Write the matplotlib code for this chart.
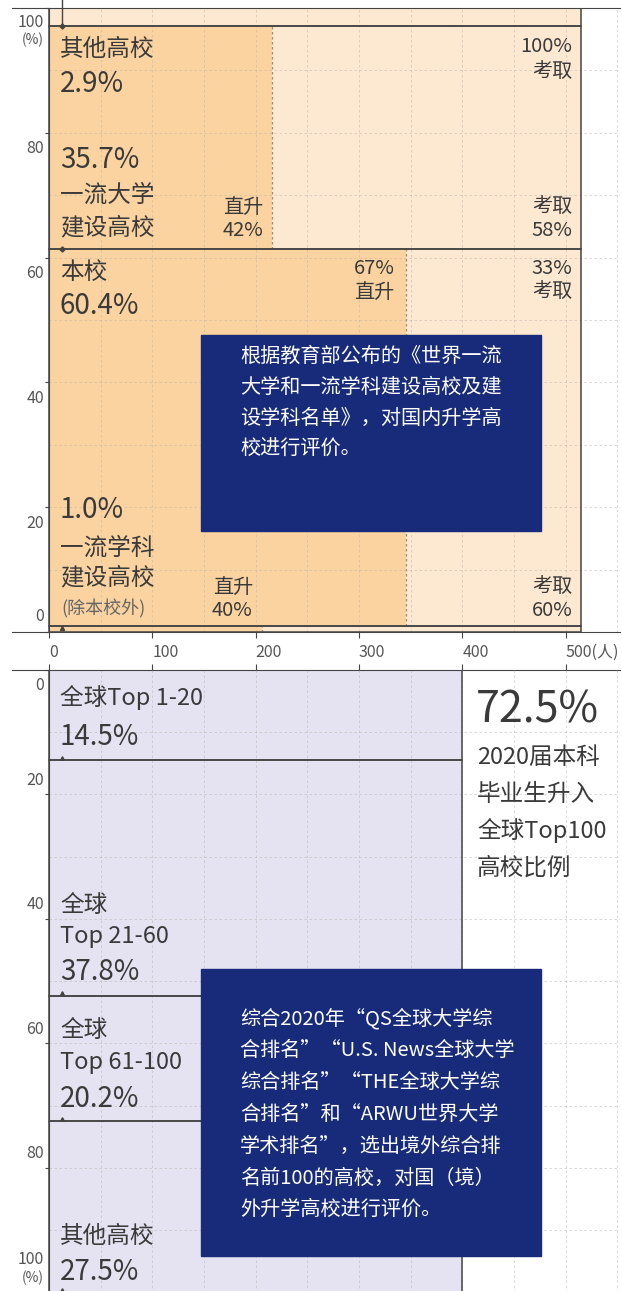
import numpy as np
import matplotlib.pyplot as plt
from matplotlib.patches import Rectangle

plt.rcParams['font.family'] = ['Noto Sans CJK SC', 'DejaVu Sans']

# domestic: stacked from bottom (percent of students), split 直升 / 考取
dom_names = ['一流学科\n建设高校', '本校', '一流大学\n建设高校', '其他高校']
dom_share = [1.0, 60.4, 35.7, 2.9]
dom_direct = [40, 67, 42, 0]      # 直升 %
dom_total = 515                   # 人

# abroad: stacked from top
abr_names = ['全球Top 1-20', '全球\nTop 21-60', '全球\nTop 61-100', '其他高校']
abr_share = [14.5, 37.8, 20.2, 27.5]
abr_total = 400
top100 = 72.5

xticks = [0, 100, 200, 300, 400, 500]
xticklabels = ['0', '100', '200', '300', '400', '500(人)']
yticks = [0, 20, 40, 60, 80, 100]

W, H = 622, 1291
DARK = '#fad3a0'
LIGHT = '#fde9d1'
LAV = '#e5e3f2'
NAVY = '#172b7a'
EDGE = '#444444'
TXT = '#3a3a3a'
GRID = '#b5aea8'

fig = plt.figure(figsize=(W / 100, H / 100), dpi=100)
ax1 = fig.add_axes([12 / W, 1 - 632 / H, 608 / W, 624 / H])
ax2 = fig.add_axes([12 / W, 0, 608 / W, 621 / H])
for ax in (ax1, ax2):
    ax.set_xlim(-35.8, 552.6)
    ax.spines['right'].set_visible(False)
    ax.spines['left'].set_position(('data', 0))
    ax.spines['left'].set_color(EDGE)
    ax.spines['top'].set_color(EDGE)
    ax.spines['bottom'].set_color(EDGE)
    ax.set_yticks(yticks)
    ax.tick_params(axis='y', direction='out', length=3, color=EDGE, labelleft=False)
    ax.set_xticks(xticks)
ax1.set_ylim(0, 100)
ax2.set_ylim(99.76, 0)
ax2.spines['bottom'].set_visible(False)

ax1.set_xticklabels(xticklabels, ha='left', fontsize=11.5, color='#555555')
ax1.tick_params(axis='x', direction='out', length=4.5, color=EDGE, pad=4)
ax2.xaxis.tick_top()
ax2.tick_params(axis='x', direction='out', length=4.5, color=EDGE, labeltop=False)

# --- grid (dashed, on top of fills)
for ax in (ax1, ax2):
    ax.hlines(np.arange(10, 100, 10), 0, 552.6, colors=GRID, linestyles=(0, (3, 3)),
              lw=0.6, alpha=0.55, zorder=3)
    ax.vlines(np.arange(50, 551, 50), 0, 100, colors=GRID, linestyles=(0, (3, 3)),
              lw=0.6, alpha=0.55, zorder=3)

# --- top panel bars
bottoms = np.concatenate([[0], np.cumsum(dom_share)[:-1]])
for b, s, d in zip(bottoms, dom_share, dom_direct):
    split = dom_total * d / 100
    ax1.bar(0, s, width=split, bottom=b, align='edge', color=DARK, lw=0, zorder=1)
    ax1.bar(split, s, width=dom_total - split, bottom=b, align='edge', color=LIGHT, lw=0, zorder=1)
    if 0 < d < 100:
        ax1.vlines(split, b, b + s, colors='#a08c78', linestyles=(0, (2, 2)), lw=0.9, zorder=4)
    ax1.bar(0, s, width=dom_total, bottom=b, align='edge', fill=False, edgecolor=EDGE,
            lw=1.1, zorder=5)

# --- bottom panel bars
abr_bottoms = np.concatenate([[0], np.cumsum(abr_share)[:-1]])
for b, s in zip(abr_bottoms, abr_share):
    ax2.bar(0, s, width=abr_total, bottom=b, align='edge', color=LAV, lw=0, zorder=1)
    ax2.bar(0, s, width=abr_total, bottom=b, align='edge', fill=False, edgecolor=EDGE,
            lw=1.1, zorder=5)

# small pointer marks near the left edge
ax1.plot([13, 13], [101.3, bottoms[3]], color=EDGE, lw=1, clip_on=False, zorder=6)
ax1.plot([13, 13], [bottoms[3], bottoms[2]], 'D', color=EDGE, ms=2.6, zorder=6)
ax1.plot(13, bottoms[1] - 0.4, '^', color=EDGE, ms=3, zorder=6)
ax2.plot([13] * 4, np.cumsum(abr_share) - 0.4, '^', color=EDGE, ms=2.6, zorder=6, clip_on=False)

# --- y tick labels (placed beside ticks)
def ylab(ax, v, dy, s, size=11.5):
    ax.annotate(s, xy=(0, v), xytext=(-5, dy), textcoords='offset pixels',
                ha='right', va='center', fontsize=size, color='#555555',
                annotation_clip=False)

for v in yticks:
    if v == 100:
        ylab(ax1, v, -15, '100')
        ylab(ax1, v, -32, '(%)', 10)
        ylab(ax2, v, 33, '100')
        ylab(ax2, v, 15, '(%)', 10)
    elif v == 0:
        ylab(ax1, v, 15, '0')
        ylab(ax2, v, -16, '0')
    else:
        ylab(ax1, v, -16, str(v))
        ylab(ax2, v, 14, str(v))

# --- note boxes
ax1.add_patch(Rectangle((147, 16.2), 329, 31.4, color=NAVY, zorder=7))
ax2.add_patch(Rectangle((147, 48.0), 329, 46.2, color=NAVY, zorder=7))


def put(x, y, s, size, color=TXT, ha='left'):
    fig.text(x / W, 1 - y / H, s, fontsize=size, color=color, ha=ha, va='center')


def xpx(ax, v):
    return ax.transData.transform((v, 0))[0]


L = 60
BIG, LBL, SM = 20, 17, 14.5

# top panel labels
put(L, 49, dom_names[3], LBL)
put(L, 84, f'{dom_share[3]}%', BIG)
put(L, 160, f'{dom_share[2]}%', BIG)
put(L, 195, dom_names[2].split('\n')[0], LBL)
put(L, 228, dom_names[2].split('\n')[1], LBL)
put(L, 272, dom_names[1], LBL)
put(L, 306, f'{dom_share[1]}%', BIG)
put(L, 510, f'{dom_share[0]}%', BIG)
put(L, 548, dom_names[0].split('\n')[0], LBL)
put(L, 578, dom_names[0].split('\n')[1], LBL)
put(L + 1, 609, '(除本校外)', 13, color='#666666')

rx = xpx(ax1, dom_total) - 9
put(rx, 46, f'{100 - dom_direct[3]}%', SM, ha='right')
put(rx, 72, '考取', SM, ha='right')
put(rx, 207, '考取', SM, ha='right')
put(rx, 231, f'{100 - dom_direct[2]}%', SM, ha='right')
put(rx, 268, f'{100 - dom_direct[1]}%', SM, ha='right')
put(rx, 292, '考取', SM, ha='right')
put(rx, 587, '考取', SM, ha='right')
put(rx, 610, f'{100 - dom_direct[0]}%', SM, ha='right')

sx = xpx(ax1, dom_total * dom_direct[2] / 100) - 9
put(sx, 207, '直升', SM, ha='right')
put(sx, 231, f'{dom_direct[2]}%', SM, ha='right')
sx = xpx(ax1, dom_total * dom_direct[1] / 100) - 11
put(sx, 268, f'{dom_direct[1]}%', SM, ha='right')
put(sx, 292, '直升', SM, ha='right')
sx = xpx(ax1, dom_total * dom_direct[0] / 100) - 9
put(sx, 587, '直升', SM, ha='right')
put(sx, 610, f'{dom_direct[0]}%', SM, ha='right')

note1 = ['根据教育部公布的《世界一流', '大学和一流学科建设高校及建',
         '设学科名单》，对国内升学高', '校进行评价。']
for i, line in enumerate(note1):
    put(240, 356 + i * 31, line, 14.5, color='white')

# bottom panel labels
put(L, 698, abr_names[0], LBL)
put(L, 737, f'{abr_share[0]}%', BIG)
put(L, 905, abr_names[1].split('\n')[0], LBL)
put(L, 937, abr_names[1].split('\n')[1], LBL)
put(L, 972, f'{abr_share[1]}%', BIG)
put(L, 1030, abr_names[2].split('\n')[0], LBL)
put(L, 1063, abr_names[2].split('\n')[1], LBL)
put(L, 1099, f'{abr_share[2]}%', BIG)
put(L, 1236, abr_names[3], LBL)
put(L, 1272, f'{abr_share[3]}%', BIG)

put(476, 710, f'{top100}%', 31)
for i, line in enumerate(['2020届本科', '毕业生升入', '全球Top100', '高校比例']):
    put(477, 757 + i * 37, line, LBL)

note2 = ['综合2020年“QS全球大学综', '合排名”“U.S. News全球大学', '综合排名”“THE全球大学综',
         '合排名”和“ARWU世界大学', '学术排名”，选出境外综合排', '名前100的高校，对国（境）',
         '外升学高校进行评价。']
for i, line in enumerate(note2):
    put(240, 1019 + i * 31.8, line, 14.5, color='white')

fig.savefig('out.png', dpi=100)
